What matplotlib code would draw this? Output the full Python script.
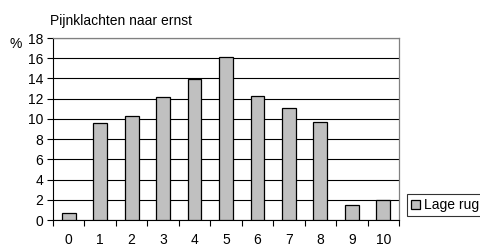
import matplotlib
matplotlib.use("Agg")
import matplotlib.pyplot as plt
from matplotlib.ticker import FixedLocator, NullFormatter

plt.rcParams['font.family'] = ['Liberation Sans', 'DejaVu Sans']

categories = ['0', '1', '2', '3', '4', '5', '6', '7', '8', '9', '10']
values = [0.7, 9.6, 10.3, 12.2, 13.9, 16.1, 12.3, 11.1, 9.7, 1.5, 2.0]
series_name = 'Lage rug'
title = 'Pijnklachten naar ernst'
y_ticks = [0, 2, 4, 6, 8, 10, 12, 14, 16, 18]

FS = 10

fig = plt.figure(figsize=(4.8, 2.47), dpi=100)
ax = fig.add_axes([0.1104, 0.1093, 0.7208, 0.7368])

x = list(range(len(categories)))
bars = ax.bar(x, values, width=0.44, color='#c0c0c0', edgecolor='black',
              linewidth=0.9, zorder=3, label=series_name)

ax.set_xlim(-0.5, len(categories) - 0.5)
ax.set_ylim(0, 18)
ax.set_yticks(y_ticks)
ax.set_yticklabels([str(t) for t in y_ticks], fontsize=FS)
ax.yaxis.grid(True, color='black', linewidth=0.8, zorder=0)
ax.set_axisbelow(True)

ax.set_xticks(x)
ax.set_xticklabels(categories, fontsize=FS)
ax.tick_params(axis='x', which='major', length=0, pad=9)
ax.xaxis.set_minor_locator(FixedLocator([i - 0.5 for i in range(len(categories) + 1)]))
ax.xaxis.set_minor_formatter(NullFormatter())
ax.tick_params(axis='x', which='minor', length=4, width=0.8, color='black', direction='out')
ax.tick_params(axis='y', length=4, width=0.8, color='black', direction='out', pad=3)

for s in ['top', 'right']:
    ax.spines[s].set_color('#808080')
    ax.spines[s].set_linewidth(0.9)
for s in ['left', 'bottom']:
    ax.spines[s].set_color('black')
    ax.spines[s].set_linewidth(0.8)

fig.text(50 / 480, 1 - 21 / 247, title, fontsize=FS, ha='left', va='center')
fig.text(9 / 480, 1 - 44 / 247, '%', fontsize=FS, ha='left', va='center')

leg = fig.legend(handles=[bars], labels=[series_name], loc='center left',
                 bbox_to_anchor=(407 / 480, 1 - 205 / 247), fontsize=FS,
                 frameon=True, fancybox=False, edgecolor='black',
                 handlelength=0.6, handleheight=0.6, handletextpad=0.3,
                 borderpad=0.3, borderaxespad=0)
leg.get_frame().set_linewidth(0.8)

fig.savefig('out.png', dpi=100)
